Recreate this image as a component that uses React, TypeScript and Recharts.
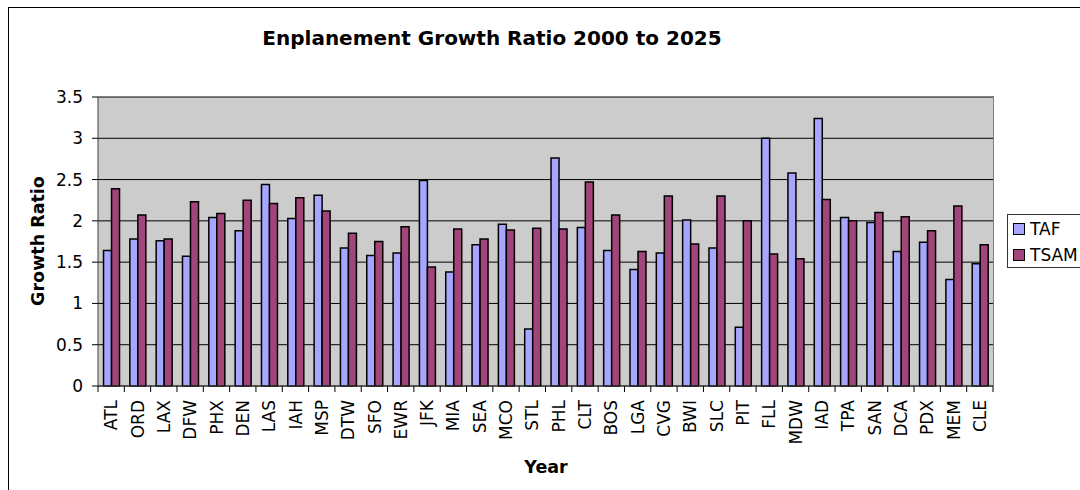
import React from 'react';
import { BarChart, Bar, XAxis, YAxis, CartesianGrid } from 'recharts';

// Airports (x categories)
const airports = [
  'ATL', 'ORD', 'LAX', 'DFW', 'PHX', 'DEN', 'LAS', 'IAH', 'MSP', 'DTW', 'SFO', 'EWR',
  'JFK', 'MIA', 'SEA', 'MCO', 'STL', 'PHL', 'CLT', 'BOS', 'LGA', 'CVG', 'BWI', 'SLC',
  'PIT', 'FLL', 'MDW', 'IAD', 'TPA', 'SAN', 'DCA', 'PDX', 'MEM', 'CLE'
];

// Growth ratio, TAF forecast
const tafValues = [
  1.64, 1.78, 1.76, 1.57, 2.04, 1.88, 2.44, 2.03, 2.31, 1.67, 1.58, 1.61,
  2.49, 1.38, 1.71, 1.96, 0.69, 2.76, 1.92, 1.64, 1.41, 1.61, 2.01, 1.67,
  0.71, 3.0, 2.58, 3.24, 2.04, 1.98, 1.63, 1.74, 1.29, 1.48
];

// Growth ratio, TSAM forecast
const tsamValues = [
  2.39, 2.07, 1.78, 2.23, 2.09, 2.25, 2.21, 2.28, 2.12, 1.85, 1.75, 1.93,
  1.44, 1.9, 1.78, 1.89, 1.91, 1.9, 2.47, 2.07, 1.63, 2.3, 1.72, 2.3,
  2.0, 1.6, 1.54, 2.26, 2.0, 2.1, 2.05, 1.88, 2.18, 1.71
];

const yTicks = [0, 0.5, 1, 1.5, 2, 2.5, 3, 3.5];

const data = airports.map((code, i) => ({
  code,
  TAF: tafValues[i],
  TSAM: tsamValues[i]
}));

const TAF_COLOR = '#A6A6FF';
const TSAM_COLOR = '#A3457A';

// plot area geometry (page px)
const PLOT_LEFT = 98;
const PLOT_TOP = 97;
const PLOT_RIGHT = 993;
const PLOT_BOTTOM = 386;
const bandWidth = (PLOT_RIGHT - PLOT_LEFT) / airports.length;

// Excel style x tick: tick marks between categories, vertical label
function XTick(props: any) {
  const { x, y, payload, index } = props;
  const left = x - bandWidth / 2;
  const right = x + bandWidth / 2;
  return (
    <g>
      <line x1={left} x2={left} y1={y} y2={y + 6} stroke="#000" />
      {index === airports.length - 1 && (
        <line x1={right} x2={right} y1={y} y2={y + 6} stroke="#000" />
      )}
      <text
        transform={`translate(${x},${y + 14}) rotate(-90)`}
        textAnchor="end"
        dy="0.36em"
        fontSize={17}
        fill="#000"
      >
        {payload.value}
      </text>
    </g>
  );
}

export default function App() {
  return (
    <div
      style={{
        position: 'fixed',
        left: 0,
        top: 0,
        width: 1080,
        height: 490,
        overflow: 'hidden',
        background: '#fff',
        fontFamily: '"DejaVu Sans", Verdana, sans-serif'
      }}
    >
      {/* chart frame, runs off the page right and bottom */}
      <div
        style={{
          position: 'absolute',
          left: 8,
          top: 7,
          width: 1200,
          height: 600,
          border: '1px solid #000'
        }}
      />

      <div style={{ position: 'absolute', left: 0, top: 0 }}>
        <BarChart
          width={1080}
          height={490}
          data={data}
          margin={{ top: PLOT_TOP, right: 1080 - PLOT_RIGHT, left: 0, bottom: 44 }}
          barCategoryGap="21%"
          barGap={0}
        >
          <CartesianGrid vertical={false} stroke="#000" fill="#CCCCCC" />
          <XAxis
            dataKey="code"
            interval={0}
            height={60}
            tickLine={false}
            tickSize={0}
            tickMargin={0}
            axisLine={{ stroke: '#404040' }}
            tick={<XTick />}
          />
          <YAxis
            width={PLOT_LEFT}
            domain={[0, 3.5]}
            ticks={yTicks}
            interval={0}
            tickSize={6}
            tickMargin={9}
            tickLine={{ stroke: '#000' }}
            axisLine={{ stroke: '#404040' }}
            tick={{ fill: '#000', fontSize: 17 }}
          />
          <Bar dataKey="TAF" fill={TAF_COLOR} stroke="#000" strokeWidth={1.5} isAnimationActive={false} />
          <Bar dataKey="TSAM" fill={TSAM_COLOR} stroke="#000" strokeWidth={1.5} isAnimationActive={false} />
        </BarChart>
      </div>

      {/* plot area border, top and right */}
      <div
        style={{
          position: 'absolute',
          left: PLOT_LEFT,
          top: PLOT_TOP - 1,
          width: PLOT_RIGHT - PLOT_LEFT,
          height: PLOT_BOTTOM - PLOT_TOP,
          borderTop: '1px solid #808080',
          borderRight: '1px solid #808080',
          pointerEvents: 'none'
        }}
      />

      {/* titles */}
      <svg
        width={1080}
        height={490}
        style={{ position: 'absolute', left: 0, top: 0, pointerEvents: 'none' }}
      >
        <text x={492} y={45} textAnchor="middle" fontSize={20} fontWeight="bold" fill="#000">
          Enplanement Growth Ratio 2000 to 2025
        </text>
        <text
          transform="translate(44,241) rotate(-90)"
          textAnchor="middle"
          fontSize={17.5}
          fontWeight="bold"
          fill="#000"
        >
          Growth Ratio
        </text>
        <text x={546} y={473} textAnchor="middle" fontSize={17.5} fontWeight="bold" fill="#000">
          Year
        </text>
      </svg>

      {/* legend */}
      <div
        style={{
          position: 'absolute',
          left: 1007,
          top: 214,
          width: 100,
          height: 52,
          border: '1px solid #333',
          fontSize: 17,
          color: '#000'
        }}
      >
        {[
          { name: 'TAF', color: TAF_COLOR },
          { name: 'TSAM', color: TSAM_COLOR }
        ].map((item, i) => (
          <div
            key={item.name}
            style={{
              position: 'absolute',
              left: 5,
              top: 4 + i * 26,
              display: 'flex',
              alignItems: 'center',
              height: 20
            }}
          >
            <div
              style={{
                width: 10,
                height: 10,
                background: item.color,
                border: '1px solid #000',
                marginRight: 5
              }}
            />
            <span>{item.name}</span>
          </div>
        ))}
      </div>
    </div>
  );
}
